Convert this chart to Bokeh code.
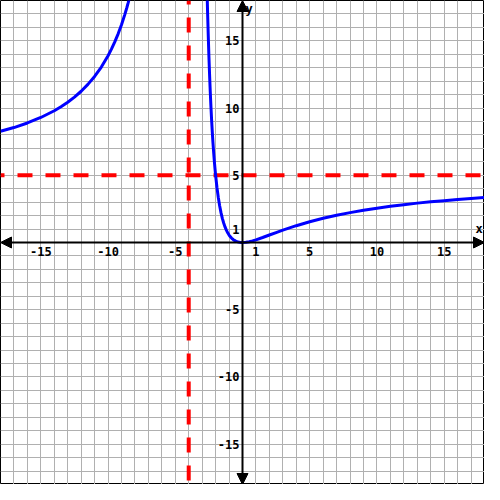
from bokeh.plotting import figure
from bokeh.models import FixedTicker, Arrow, NormalHead, ColumnDataSource
from bokeh.core.properties import value
from bokeh.embed import file_html
from bokeh.resources import INLINE

# Curve values (left branch, x < -4)
left_x = [-18, -17, -16, -15, -14, -13.5, -13, -12.5, -12, -11.5, -11, -10.5, -10, -9.75, -9.5,
          -9.25, -9, -8.75, -8.6, -8.5, -8.3]
left_y = [8.27, 8.55, 8.89, 9.30, 9.80, 10.10, 10.43, 10.81, 11.25, 11.76, 12.35, 13.05, 13.89, 14.38, 14.92,
          15.52, 16.2, 16.97, 17.48, 17.84, 18.63]

# Right branch, x > -4
right_x = [-2.65, -2.6, -2.55, -2.5, -2.45, -2.4, -2.35, -2.3, -2.25, -2.2, -2.15, -2.1, -2.05, -2.0,
           -1.9, -1.8, -1.7, -1.6, -1.5, -1.4, -1.3, -1.2, -1.1, -1.0, -0.9, -0.8, -0.7, -0.6, -0.5,
           -0.4, -0.3, -0.2, -0.1, 0, 0.25, 0.5, 0.75, 1, 1.5, 2, 2.5,
           3, 4, 5, 6, 7, 8, 9, 10, 11, 12, 13, 14, 15, 16, 17, 18]
right_y = [19.27, 17.25, 15.49, 13.89, 12.51, 11.25, 10.14, 9.15, 8.26, 7.47, 6.75, 6.11, 5.53, 5.0,
           4.09, 3.35, 2.73, 2.22, 1.80, 1.45, 1.16, 0.92, 0.72, 0.556, 0.42, 0.3125, 0.224, 0.156, 0.102,
           0.0617, 0.0327, 0.0139, 0.0033, 0, 0.0138, 0.0617, 0.1161, 0.2, 0.372, 0.556, 0.74,
           0.918, 1.25, 1.543, 1.8, 2.025, 2.222, 2.396, 2.551, 2.689, 2.8125, 2.929, 3.025, 3.114, 3.2, 3.277, 3.347]

# Asymptotes
asym_x = -4
asym_y = 5

# Tick labels
xtick_vals = [-15, -10, -5, 1, 5, 10, 15]
xtick_text = ["-15", "-10", "-5", "1", "5", "10", "15"]
ytick_vals = [15, 10, 5, 1, -5, -10, -15]
ytick_text = ["15", "10", "5", "1", "-5", "-10", "-15"]

lo, hi = -18, 18

p = figure(width=484, height=484, x_range=(lo, hi), y_range=(lo, hi),
           output_backend="svg", toolbar_location=None, min_border=0,
           background_fill_color="white", border_fill_color="white")
p.xaxis.visible = False
p.yaxis.visible = False
p.outline_line_color = "black"
p.outline_line_width = 1

grid_ticks = list(range(lo, hi + 1))
p.xgrid.ticker = FixedTicker(ticks=grid_ticks)
p.ygrid.ticker = FixedTicker(ticks=grid_ticks)
for g in (p.xgrid, p.ygrid):
    g.grid_line_color = "#b0b0b0"
    g.grid_line_width = 1
    g.grid_line_alpha = 1

# Asymptotes (red dashed)
p.line([lo, hi], [asym_y, asym_y], line_color="#ff0000", line_width=4,
       line_dash="15 13", line_dash_offset=11)
p.line([asym_x, asym_x], [hi, lo], line_color="#ff0000", line_width=4,
       line_dash="15 13", line_dash_offset=11)

# Axes with arrowheads
for (x0, y0, x1, y1) in [(0, 0, hi, 0), (0, 0, lo, 0), (0, 0, 0, hi), (0, 0, 0, lo)]:
    p.add_layout(Arrow(x_start=x0, y_start=y0, x_end=x1, y_end=y1,
                       line_color="black", line_width=2,
                       end=NormalHead(size=11, fill_color="black", line_color="black", line_width=1)))

# Curve
p.line(left_x, left_y, line_color="#0000ff", line_width=3)
p.line(right_x, right_y, line_color="#0000ff", line_width=3)

font = value("DejaVu Sans Mono")
fs = "12px"
xs = ColumnDataSource(dict(x=xtick_vals, y=[0] * len(xtick_vals), t=xtick_text))
p.text(x="x", y="y", text="t", source=xs, text_font=font, text_font_style="bold",
       text_font_size=fs, text_align="center", text_baseline="top", y_offset=4,
       text_color="black")
ys = ColumnDataSource(dict(x=[0] * len(ytick_vals), y=ytick_vals, t=ytick_text))
p.text(x="x", y="y", text="t", source=ys, text_font=font, text_font_style="bold",
       text_font_size=fs, text_align="right", text_baseline="middle", x_offset=-3,
       text_color="black")

p.text(x=[17.6], y=[0], text=["x"], text_font=font, text_font_style="bold",
       text_font_size=fs, text_align="center", text_baseline="bottom", y_offset=-7,
       text_color="black")
p.text(x=[0], y=[hi], text=["y"], text_font=font, text_font_style="bold",
       text_font_size=fs, text_align="left", text_baseline="top", x_offset=3, y_offset=1,
       text_color="black")

open("out.html", "w").write(file_html(p, INLINE))
